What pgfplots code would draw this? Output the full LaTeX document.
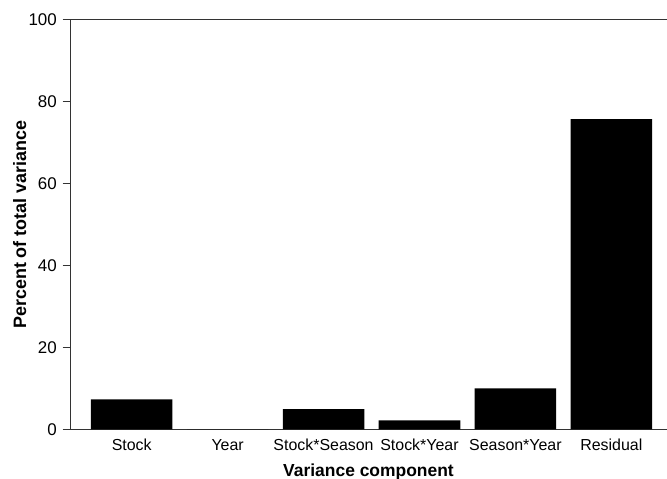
\documentclass[border=0pt]{standalone}
\usepackage{fontspec}
\setmainfont{Liberation Sans}
\usepackage{pgfplots}
\pgfplotsset{compat=1.18}

\pgfplotstableread{
x  val   name
0  7.3   Stock
1  0.0   Year
2  4.9   Stock*Season
3  2.2   Stock*Year
4  10.0  Season*Year
5  75.8  Residual
}\variance

\begin{document}
\begin{tikzpicture}
% fixed page frame around the plot
\useasboundingbox (-70bp,-49.7bp) rectangle (597bp,429.3bp);
\begin{axis}[
  at={(0,0)}, anchor=south west,
  scale only axis, width=597bp, height=409.3bp,
  xmin=-0.643, xmax=5.58, ymin=0, ymax=100,
  axis lines=left,
  axis line style={-, draw=black!80, line width=1bp},
  ytick={0,20,...,100},
  tick align=outside,
  ytick style={draw=black!80, line width=1bp},
  major tick length=7.5bp,
  xtick=data,
  xticklabels from table={\variance}{name},
  x tick style={draw=none},
  xticklabel style={anchor=base, inner sep=0pt, yshift=-13.9bp,
    font=\fontsize{16}{19}\selectfont},
  yticklabel style={anchor=east, inner sep=0pt, xshift=-5.5bp,
    font=\fontsize{17}{20}\selectfont},
  /pgf/number format/assume math mode=true,
  xlabel={Variance component},
  ylabel={Percent of total variance},
  xlabel style={at={(axis description cs:0.5,0)}, anchor=north, inner sep=0pt,
    yshift=-34bp, font=\fontsize{17.5}{20}\selectfont\bfseries},
  ylabel style={at={(axis description cs:0,0.5)}, rotate=0, anchor=south,
    inner sep=0pt, yshift=43.5bp, font=\fontsize{18}{21}\selectfont\bfseries},
  clip=false,
]
\addplot[ybar, bar width=0.85, fill=black, draw=none] table[x=x, y=val] {\variance};
% closing line along the top of the frame
\draw[draw=black!80, line width=1bp] (rel axis cs:0,1) -- (rel axis cs:1,1);
\end{axis}
\end{tikzpicture}
\end{document}
